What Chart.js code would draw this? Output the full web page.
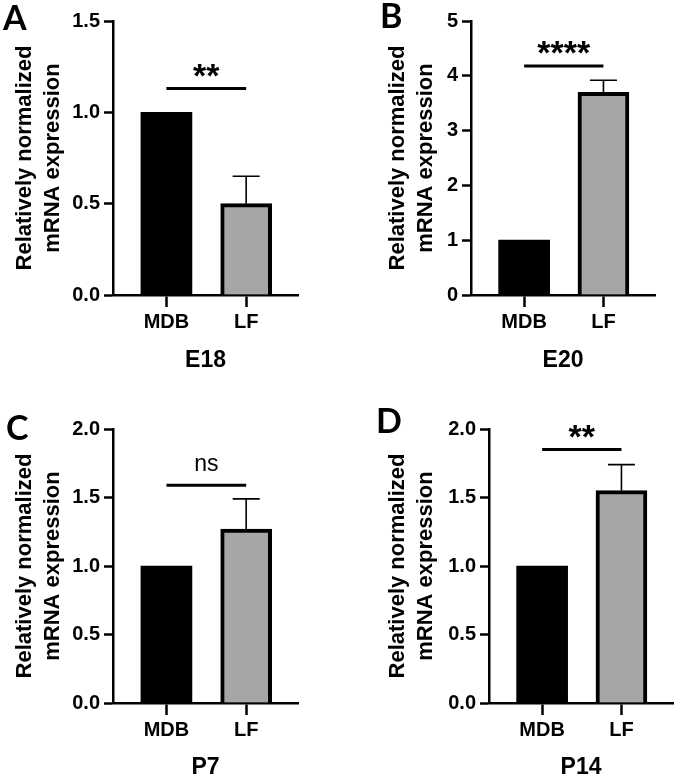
<!DOCTYPE html>
<html>
<head>
<meta charset="utf-8">
<script src="https://cdn.jsdelivr.net/npm/chart.js@4"></script>
<style>
  html, body { margin: 0; padding: 0; background: #fff; }
  #wrap { position: relative; width: 676px; height: 774px; }
  .panel { position: absolute; width: 338px; height: 387px; }
</style>
</head>
<body>
<div id="wrap">
  <div class="panel" style="left:0;top:0"><canvas id="c0" width="338" height="387"></canvas></div>
  <div class="panel" style="left:338px;top:0"><canvas id="c1" width="338" height="387"></canvas></div>
  <div class="panel" style="left:0;top:387px"><canvas id="c2" width="338" height="387"></canvas></div>
  <div class="panel" style="left:338px;top:387px"><canvas id="c3" width="338" height="387"></canvas></div>
</div>
<script>
// ---- data ----
const categories = ['MDB', 'LF'];
const panelLetters = ['A', 'B', 'C', 'D'];
const timepoints = ['E18', 'E20', 'P7', 'P14'];
const mdbValues = [1.0, 1.0, 1.0, 1.0];
const lfValues = [0.50, 3.70, 1.27, 1.55];
const lfErrors = [0.15, 0.22, 0.22, 0.19];
const sigLabels = ['**', '****', 'ns', '**'];
const sigLineValues = [1.13, 4.18, 1.59, 1.85];
const yMaxValues = [1.5, 5, 2, 2];
const yStepValues = [0.5, 1, 0.5, 0.5];
const yDecimals = [1, 0, 1, 1];
const yAxisTitle = ['Relatively normalized', 'mRNA expression'];

// ---- layout (per panel) ----
const layoutCfg = [
  { left: 113, top: 21, right: 40, bottom: 92, titleX: 25, xTitlePad: 22, letter: [3, 30] },
  { left: 133, top: 21, right: 21, bottom: 92, titleX: 60, xTitlePad: 22, letter: [42, 28] },
  { left: 113, top: 42, right: 40, bottom: 71, titleX: 25, xTitlePad: 2, letter: [6, 53] },
  { left: 151, top: 42, right: 3, bottom: 71, titleX: 60, xTitlePad: 2, letter: [38, 46] }
];

const FONT = "'Liberation Sans', Arial, sans-serif";
const GRAY = '#a6a6a6';
const AXIS_W = 2.5;

const annotPlugin = {
  id: 'annot',
  afterDatasetsDraw(chart, args, opts) {
    const i = opts.idx;
    const ctx = chart.ctx;
    const xs = chart.scales.x, ys = chart.scales.y;
    ctx.save();
    // error bar (upper only) on LF
    const xc = xs.getPixelForValue(1);
    const yTop = ys.getPixelForValue(lfValues[i]);
    const yErr = ys.getPixelForValue(lfValues[i] + lfErrors[i]);
    ctx.strokeStyle = '#000';
    ctx.lineWidth = 1.6;
    ctx.beginPath();
    ctx.moveTo(xc, yTop);
    ctx.lineTo(xc, yErr);
    ctx.moveTo(xc - 13.5, yErr);
    ctx.lineTo(xc + 13.5, yErr);
    ctx.stroke();
    // significance line
    const x0 = xs.getPixelForValue(0), x1 = xs.getPixelForValue(1);
    const ySig = ys.getPixelForValue(sigLineValues[i]);
    ctx.lineWidth = 3;
    ctx.beginPath();
    ctx.moveTo(x0, ySig);
    ctx.lineTo(x1, ySig);
    ctx.stroke();
    ctx.fillStyle = '#000';
    ctx.textAlign = 'center';
    ctx.textBaseline = 'alphabetic';
    if (sigLabels[i] === 'ns') {
      ctx.font = "400 23px " + FONT;
      ctx.fillText(sigLabels[i], (x0 + x1) / 2, ySig - 14);
    } else {
      ctx.font = "700 34px " + FONT;
      ctx.fillText(sigLabels[i], (x0 + x1) / 2, ySig - 1.5);
    }
    // panel letter
    ctx.textAlign = 'left';
    ctx.font = "700 34px Lato, 'Open Sans', sans-serif";
    ctx.fillText(panelLetters[i], layoutCfg[i].letter[0], layoutCfg[i].letter[1]);
    ctx.restore();
  }
};

function makeChart(i) {
  const L = layoutCfg[i];
  const ctx = document.getElementById('c' + i);
  return new Chart(ctx, {
    type: 'bar',
    data: {
      datasets: [{
        data: [{ x: 0, y: mdbValues[i] }, { x: 1, y: lfValues[i] }],
        backgroundColor: ['#000000', GRAY],
        borderColor: '#000000',
        borderWidth: [0, 4],
        borderSkipped: 'bottom',
        barThickness: 51
      }]
    },
    options: {
      responsive: false,
      animation: false,
      events: [],
      layout: { padding: { left: 0, top: L.top, right: L.right, bottom: 0 } },
      plugins: {
        legend: { display: false },
        tooltip: { enabled: false },
        annot: { idx: i }
      },
      scales: {
        x: {
          type: 'linear',
          offset: false,
          min: -0.67,
          max: 1.65,
          afterBuildTicks(scale) { scale.ticks = [{ value: 0 }, { value: 1 }]; },
          afterFit(scale) { scale.height = L.bottom; },
          ticks: {
            callback: (v) => categories[v],
            color: '#000',
            font: { family: FONT, size: 20, weight: '700' },
            padding: 3,
            maxRotation: 0
          },
          grid: { offset: false, drawOnChartArea: false, drawTicks: true, tickLength: 12, tickWidth: AXIS_W, tickColor: '#000' },
          border: { display: true, color: '#000', width: AXIS_W },
          title: {
            display: true,
            text: timepoints[i],
            color: '#000',
            font: { family: FONT, size: 23, weight: '700', lineHeight: 0.4 },
            padding: { top: 0, bottom: L.xTitlePad }
          }
        },
        y: {
          min: 0,
          max: yMaxValues[i],
          afterFit(scale) { scale.width = L.left; },
          ticks: {
            stepSize: yStepValues[i],
            callback: (v) => Number(v).toFixed(yDecimals[i]),
            color: '#000',
            font: { family: FONT, size: 20, weight: '700' },
            padding: 4
          },
          grid: { drawOnChartArea: false, drawTicks: true, tickLength: 9, tickWidth: AXIS_W, tickColor: '#000' },
          border: { display: true, color: '#000', width: AXIS_W },
          title: {
            display: true,
            text: yAxisTitle,
            color: '#000',
            font: { family: FONT, size: 22, weight: '700', lineHeight: 1.27 },
            padding: { top: L.titleX - 14, bottom: 0 }
          }
        }
      }
    },
    plugins: [annotPlugin]
  });
}

for (let i = 0; i < 4; i++) makeChart(i);
</script>
</body>
</html>
